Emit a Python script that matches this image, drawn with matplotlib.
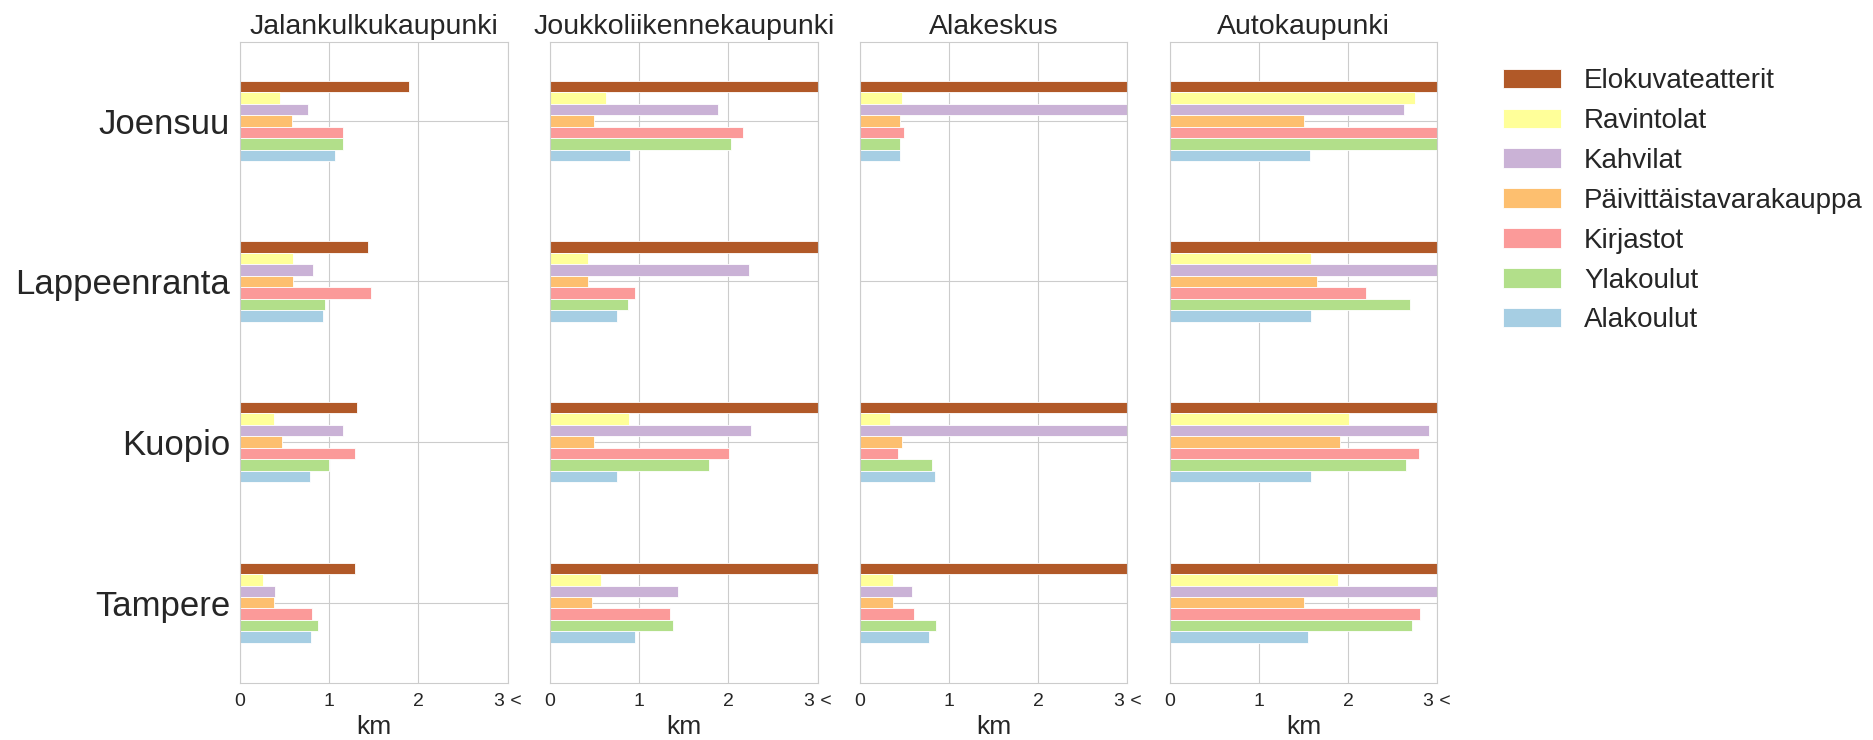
import numpy as np
import matplotlib
matplotlib.use('Agg')
import matplotlib.pyplot as plt
import seaborn as sns

sns.set_style('whitegrid')
plt.rcParams['font.family'] = ['Liberation Sans', 'DejaVu Sans']

cities = ['Joensuu', 'Lappeenranta', 'Kuopio', 'Tampere']
panels = ['Jalankulkukaupunki', 'Joukkoliikennekaupunki', 'Alakeskus', 'Autokaupunki']
services = ['Elokuvateatterit', 'Ravintolat', 'Kahvilat', 'Päivittäistavarakauppa',
            'Kirjastot', 'Ylakoulut', 'Alakoulut']
colors = ['#b15928', '#ffff99', '#cab2d6', '#fdbf6f', '#fb9a99', '#b2df8a', '#a6cee3']

# km, one row per city, columns in the order of services; 3 = "3 <"
jalankulku = [[1.89, 0.45, 0.76, 0.58, 1.15, 1.16, 1.07],
              [1.43, 0.60, 0.82, 0.60, 1.47, 0.95, 0.93],
              [1.31, 0.38, 1.15, 0.47, 1.29, 1.00, 0.79],
              [1.29, 0.26, 0.39, 0.38, 0.81, 0.87, 0.80]]
joukkoliikenne = [[3.0, 0.63, 1.88, 0.50, 2.16, 2.03, 0.90],
                  [3.0, 0.43, 2.23, 0.43, 0.96, 0.88, 0.75],
                  [3.0, 0.89, 2.25, 0.49, 2.01, 1.78, 0.75],
                  [3.0, 0.57, 1.44, 0.47, 1.35, 1.38, 0.95]]
alakeskus = [[3.0, 0.48, 3.0, 0.45, 0.50, 0.45, 0.45],
             [np.nan] * 7,
             [3.0, 0.34, 2.99, 0.47, 0.43, 0.81, 0.84],
             [3.0, 0.37, 0.59, 0.37, 0.61, 0.85, 0.78]]
autokaupunki = [[3.0, 2.75, 2.63, 1.51, 3.0, 3.0, 1.57],
                [3.0, 1.59, 3.0, 1.65, 2.20, 2.69, 1.58],
                [3.0, 2.01, 2.91, 1.91, 2.79, 2.65, 1.58],
                [3.0, 1.89, 3.0, 1.51, 2.81, 2.72, 1.55]]
values = [jalankulku, joukkoliikenne, alakeskus, autokaupunki]

fig, axes = plt.subplots(1, 4, figsize=(18.74, 7.4), dpi=100, sharey=True)
fig.subplots_adjust(left=0.128, right=0.767, top=0.943, bottom=0.077, wspace=0.157)

h = 0.5 / len(services)
ypos = np.arange(len(cities))
for ax, title, data in zip(axes, panels, values):
    data = np.array(data, dtype=float)
    for j, (name, col) in enumerate(zip(services, colors)):
        ax.barh(ypos - 0.25 + h / 2 + j * h, data[:, j], height=h, color=col,
                edgecolor='white', linewidth=0.6, label=name)
    ax.set_xlim(0, 3)
    ax.set_ylim(3.5, -0.49)
    ax.set_xticks([0, 1, 2, 3])
    ax.set_xticklabels(['0', '1', '2', '3 <'], fontsize=14)
    ax.set_xlabel('km', fontsize=19)
    ax.set_title(title, fontsize=20.5)
    ax.set_yticks(ypos)
    ax.tick_params(axis='y', labelsize=25)
    for s in ax.spines.values():
        s.set_color('#cccccc')

axes[0].set_yticklabels(cities)
fig.legend(*axes[-1].get_legend_handles_labels(), loc='upper left',
           bbox_to_anchor=(0.802, 0.908), frameon=False, borderpad=0, borderaxespad=0,
           fontsize=20, handlelength=2.1, handleheight=0.7, handletextpad=0.82,
           labelspacing=0.5)

plt.savefig('out.png')
